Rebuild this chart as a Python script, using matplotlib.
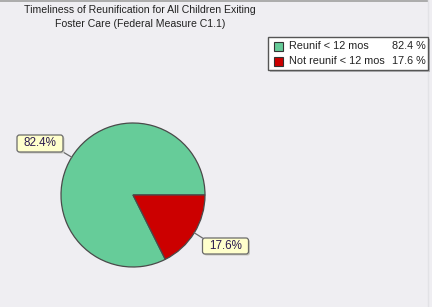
import matplotlib
matplotlib.use("Agg")
import matplotlib.pyplot as plt
from matplotlib.patches import Rectangle, FancyBboxPatch
import numpy as np

plt.rcParams['font.family'] = ['Liberation Sans', 'DejaVu Sans']

title_lines = ["Timeliness of Reunification for All Children Exiting",
               "Foster Care (Federal Measure C1.1)"]
categories = ["Reunif < 12 mos", "Not reunif < 12 mos"]
values = [82.4, 17.6]
colors = ["#66CC99", "#CC0000"]

W, H = 432, 307
BG = "#EFEEF2"
fig = plt.figure(figsize=(W / 100, H / 100), dpi=100, facecolor=BG)
ax = fig.add_axes([0, 0, 1, 1])
ax.set_facecolor(BG)

def sy(y):
    return H - y

# pie
cx, cy, r = 133, sy(195), 72
wedges, _ = ax.pie(values, colors=colors, startangle=0, counterclock=True,
                   center=(cx, cy), radius=r, frame=True,
                   wedgeprops=dict(edgecolor="#4a4a4a", linewidth=0.9))
ax.set_xlim(0, W)
ax.set_ylim(0, H)
ax.set_aspect("equal")
ax.axis("off")

# title
ax.text(140, sy(10), title_lines[0], ha="center", va="center", fontsize=7.6, color="#222222")
ax.text(140, sy(24), title_lines[1], ha="center", va="center", fontsize=7.6, color="#222222")

# slice labels (box centre, width, height in pixels)
label_boxes = [(40, sy(143.5), 46, 17), (225.5, sy(246), 46, 16)]
for w, v, (bx, by, bw, bh) in zip(wedges, values, label_boxes):
    ang = np.deg2rad((w.theta1 + w.theta2) / 2)
    px, py = cx + r * np.cos(ang), cy + r * np.sin(ang)
    corners = [(bx + sx * bw / 2, by + s2 * bh / 2) for sx in (-1, 1) for s2 in (-1, 1)]
    qx, qy = min(corners, key=lambda c: (c[0] - px) ** 2 + (c[1] - py) ** 2)
    ax.plot([px, qx], [py, qy], color="#6a6a6a", lw=0.9, zorder=3)
    ax.add_patch(FancyBboxPatch((bx - bw / 2 + 1.5, by - bh / 2 - 1.5), bw, bh,
                                boxstyle="round,pad=0,rounding_size=2.5",
                                fc="#C8C8C0", ec="none", zorder=4))
    ax.add_patch(FancyBboxPatch((bx - bw / 2, by - bh / 2), bw, bh,
                                boxstyle="round,pad=0,rounding_size=2.5",
                                fc="#FFFFCC", ec="#6a6a6a", lw=0.9, zorder=5))
    ax.text(bx, by, f"{v:.1f}%", ha="center", va="center", fontsize=8.4,
            color="#2a1a50", zorder=6)

# legend
lx0, lx1, ly0, ly1 = 268, 428, 37, 70
ax.add_patch(Rectangle((lx0 + 2, sy(ly1) - 2), lx1 - lx0, ly1 - ly0, fc="#B8B8BC", ec="none", zorder=4))
ax.add_patch(Rectangle((lx0, sy(ly1)), lx1 - lx0, ly1 - ly0, fc="white", ec="#555555", lw=1.0, zorder=5))
rows = [46, 61]
for cat, v, c, ry in zip(categories, values, colors, rows):
    ax.add_patch(Rectangle((274, sy(ry) - 4.5), 9, 9, fc=c, ec="#333333", lw=0.8, zorder=6))
    ax.text(289, sy(ry), cat, ha="left", va="center", fontsize=7.8, color="#222222", zorder=7)
    ax.text(426, sy(ry), f"{v:.1f} %", ha="right", va="center", fontsize=7.8, color="#222222", zorder=7)

# border lines
ax.plot([0, 428], [H - 0.5, H - 0.5], color="#A0A0A0", lw=1.2)
ax.plot([427.5, 427.5], [0, H], color="#E2E2E6", lw=1.0)

fig.savefig("out.png", dpi=100, facecolor=BG)
